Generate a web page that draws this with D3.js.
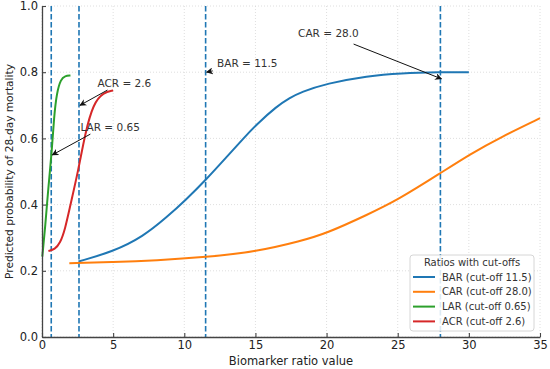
<!DOCTYPE html>
<html>
<head>
<meta charset="utf-8">
<script src="https://cdn.jsdelivr.net/npm/d3@7"></script>
<style>
  body { margin: 0; background: #fff; }
  svg { font-family: "DejaVu Sans", sans-serif; }
</style>
</head>
<body>
<div id="chart"></div>
<script>
// values
var barX = [2.56, 5.0, 7.1, 8.8, 10.1, 11.5, 13.0, 14.2, 15.1, 16.5, 17.4, 18.2, 20.0, 22.9, 25.2, 28.0, 30.0];
var barY = [0.228, 0.258, 0.303, 0.363, 0.414, 0.474, 0.545, 0.602, 0.643, 0.697, 0.722, 0.740, 0.766, 0.789, 0.797, 0.80, 0.80];
var carX = [1.92, 5.0, 8.0, 11.5, 15.1, 18.2, 20.0, 22.9, 25.0, 28.0, 30.1, 32.3, 35.0];
var carY = [0.223, 0.226, 0.231, 0.241, 0.258, 0.290, 0.313, 0.370, 0.414, 0.495, 0.553, 0.605, 0.661];
var larX = [0.02, 0.23, 0.45, 0.68, 0.85, 1.04, 1.32, 1.62, 2.0];
var larY = [0.243, 0.334, 0.455, 0.556, 0.668, 0.738, 0.779, 0.789, 0.79];
var acrX = [0.45, 0.9, 1.27, 1.62, 1.97, 2.56, 3.03, 3.61, 4.32, 5.0];
var acrY = [0.26, 0.265, 0.283, 0.325, 0.394, 0.505, 0.615, 0.706, 0.739, 0.745];

var names = ["BAR", "CAR", "LAR", "ACR"];
var cutoffs = [11.5, 28.0, 0.65, 2.6];
var cutoffLabels = ["11.5", "28.0", "0.65", "2.6"];
var colors = ["#1f77b4", "#ff7f0e", "#2ca02c", "#d62728"];
var xTicks = [0, 5, 10, 15, 20, 25, 30, 35];
var yTicks = [0, 0.2, 0.4, 0.6, 0.8, 1.0];

var series = [
  { name: names[0], xs: barX, ys: barY },
  { name: names[1], xs: carX, ys: carY },
  { name: names[2], xs: larX, ys: larY },
  { name: names[3], xs: acrX, ys: acrY }
];

var W = 550, H = 369;
var margin = { top: 6, right: 10, bottom: 32, left: 42 };
var width = W - margin.left - margin.right;
var height = H - margin.top - margin.bottom;

var svg = d3.select("#chart").append("svg")
  .attr("width", W).attr("height", H)
  .append("g")
  .attr("transform", "translate(" + margin.left + "," + margin.top + ")");

svg.append("defs").append("marker")
  .attr("id", "arrow")
  .attr("viewBox", "0 0 10 10")
  .attr("refX", 9).attr("refY", 5)
  .attr("markerWidth", 7).attr("markerHeight", 7)
  .attr("markerUnits", "userSpaceOnUse")
  .attr("orient", "auto")
  .append("path").attr("d", "M0,0 L10,5 L0,10 L3,5 Z").attr("fill", "#111");

var x = d3.scaleLinear().domain([0, 35]).range([0, width]);
var y = d3.scaleLinear().domain([0, 1]).range([height, 0]);

// grid
svg.append("g").selectAll("line").data(xTicks).enter().append("line")
  .attr("x1", d => x(d)).attr("x2", d => x(d)).attr("y1", 0).attr("y2", height)
  .attr("stroke", "#d5d5d5").attr("stroke-width", 0.8).attr("stroke-dasharray", "1,2");
svg.append("g").selectAll("line").data(yTicks).enter().append("line")
  .attr("x1", 0).attr("x2", width).attr("y1", d => y(d)).attr("y2", d => y(d))
  .attr("stroke", "#d5d5d5").attr("stroke-width", 0.8).attr("stroke-dasharray", "1,2");

// cut-off lines
svg.append("g").selectAll("line").data(cutoffs).enter().append("line")
  .attr("x1", d => x(d)).attr("x2", d => x(d)).attr("y1", 0).attr("y2", height)
  .attr("stroke", "#1f77b4").attr("stroke-width", 1.6).attr("stroke-dasharray", "5.5,2.5");

// curves
var line = d3.line().x(d => x(d[0])).y(d => y(d[1])).curve(d3.curveBasis);
series.forEach(function (s, i) {
  svg.append("path")
    .datum(s.xs.map((v, j) => [v, s.ys[j]]))
    .attr("d", line)
    .attr("fill", "none")
    .attr("stroke", colors[i])
    .attr("stroke-width", 2);
});

// axes
var xAxis = svg.append("g").attr("transform", "translate(0," + height + ")")
  .call(d3.axisBottom(x).tickValues(xTicks).tickSizeInner(-4).tickSizeOuter(0).tickPadding(4));
var yAxis = svg.append("g")
  .call(d3.axisLeft(y).tickValues(yTicks).tickFormat(d3.format(".1f")).tickSizeInner(-4).tickSizeOuter(0).tickPadding(4));
[xAxis, yAxis].forEach(function (a) {
  a.select(".domain").attr("stroke", "#444").attr("stroke-width", 1.3);
  a.selectAll(".tick line").attr("stroke", "#444").attr("stroke-width", 1.1);
  a.selectAll(".tick text").attr("fill", "#222").style("font-size", "11.5px")
    .style("font-family", "DejaVu Sans, sans-serif");
});

svg.append("text")
  .attr("x", width / 2).attr("y", height + 28)
  .attr("text-anchor", "middle").attr("fill", "#222")
  .style("font-size", "11.5px").text("Biomarker ratio value");
svg.append("text")
  .attr("transform", "translate(" + (-29) + "," + (height / 2) + ") rotate(-90)")
  .attr("text-anchor", "middle").attr("fill", "#222")
  .style("font-size", "10.6px").text("Predicted probability of 28-day mortality");

// annotations: label index, arrow target y, text position, arrow start
var notes = [
  { i: 3, ty: 0.70, tx: 3.9, tyText: 0.755, sx: 4.6, sy: 0.746 },
  { i: 2, ty: 0.55, tx: 2.7, tyText: 0.623, sx: 3.4, sy: 0.613 },
  { i: 0, ty: 0.80, tx: 12.3, tyText: 0.815, sx: 12.0, sy: 0.804 },
  { i: 1, ty: 0.78, tx: 18.0, tyText: 0.905, sx: 21.9, sy: 0.885 }
];
notes.forEach(function (n) {
  svg.append("line")
    .attr("x1", x(n.sx)).attr("y1", y(n.sy))
    .attr("x2", x(cutoffs[n.i]) + 1).attr("y2", y(n.ty))
    .attr("stroke", "#111").attr("stroke-width", 1)
    .attr("marker-end", "url(#arrow)");
  svg.append("text")
    .attr("x", x(n.tx)).attr("y", y(n.tyText))
    .attr("fill", "#333").style("font-size", "10.5px")
    .text(names[n.i] + " = " + cutoffLabels[n.i]);
});

// legend
var lg = svg.append("g").attr("transform", "translate(" + (410 - margin.left) + "," + (255 - margin.top) + ")");
lg.append("rect").attr("width", 124).attr("height", 76).attr("rx", 3)
  .attr("fill", "#fff").attr("fill-opacity", 0.85)
  .attr("stroke", "#ccc").attr("stroke-width", 0.8);
lg.append("text").attr("x", 62).attr("y", 11).attr("text-anchor", "middle")
  .attr("fill", "#333").style("font-size", "10px").text("Ratios with cut-offs");
names.forEach(function (nm, i) {
  var yy = 22 + i * 14.8;
  lg.append("line").attr("x1", 3).attr("x2", 25).attr("y1", yy).attr("y2", yy)
    .attr("stroke", colors[i]).attr("stroke-width", 2);
  lg.append("text").attr("x", 32).attr("y", yy + 3.5)
    .attr("fill", "#333").style("font-size", "10px")
    .text(nm + " (cut-off " + cutoffLabels[i] + ")");
});
</script>
</body>
</html>
